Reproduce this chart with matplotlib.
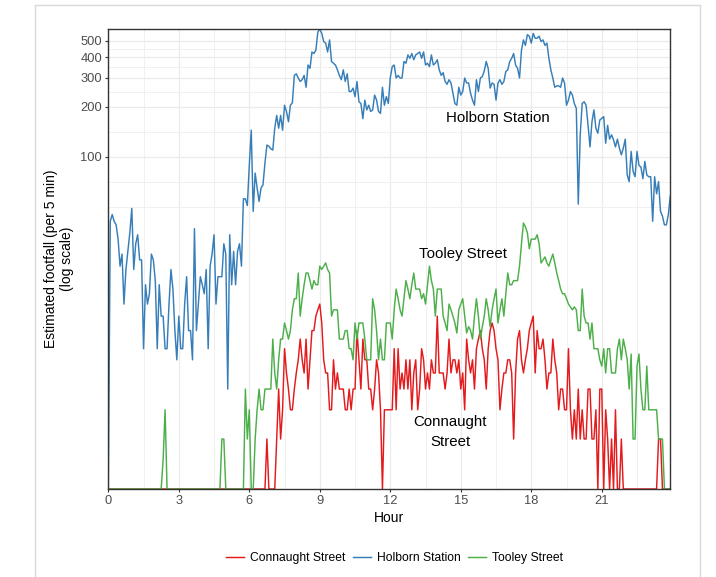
import numpy as np
import matplotlib
matplotlib.use("Agg")
import matplotlib.pyplot as plt
from matplotlib.ticker import FixedLocator, FixedFormatter, NullFormatter
from matplotlib.patches import Rectangle

plt.rcParams['font.family'] = ['Liberation Sans', 'DejaVu Sans']

# ---- data: estimated footfall per 5-minute interval (bottom of axis = 1) ----
connaught = [
    1, 1, 1, 1, 1, 1, 1, 1, 1, 1, 1, 1,
    1, 1, 1, 1, 1, 1, 1, 1, 1, 1, 1, 1,
    1, 1, 1, 1, 1, 1, 1, 1, 1, 1, 1, 1,
    1, 1, 1, 1, 1, 1, 1, 1, 1, 1, 1, 1,
    1, 1, 1, 1, 1, 1, 1, 1, 1, 1, 1, 1,
    1, 1, 1, 1, 1, 1, 1, 1, 1, 1, 1, 1,
    1, 1, 1, 1, 1, 1, 1, 1, 1, 2, 1, 1,
    1, 1, 2, 4, 2, 3, 7, 5, 4, 3, 3, 4,
    5, 6, 8, 6, 5, 8, 4, 6, 9, 9, 11, 12,
    13, 10, 6, 5, 5, 3, 3, 6, 4, 5, 4, 4,
    4, 3, 3, 4, 3, 4, 4, 9, 6, 4, 8, 6,
    6, 4, 4, 3, 4, 6, 5, 3, 1, 3, 3, 3,
    3, 3, 7, 3, 7, 4, 5, 4, 6, 4, 6, 3,
    5, 6, 3, 4, 7, 6, 4, 5, 4, 6, 5, 5,
    11, 5, 5, 5, 4, 5, 8, 5, 6, 6, 5, 6,
    4, 5, 3, 8, 6, 5, 6, 4, 7, 8, 9, 7,
    6, 4, 7, 9, 10, 9, 7, 6, 3, 4, 5, 5,
    6, 6, 5, 2, 5, 8, 9, 6, 5, 6, 7, 9,
    10, 11, 5, 9, 7, 7, 8, 6, 4, 5, 5, 8,
    6, 5, 3, 4, 4, 3, 3, 7, 3, 2, 3, 2,
    4, 2, 3, 2, 2, 4, 4, 2, 2, 3, 1, 4,
    4, 1, 3, 2, 1, 2, 1, 3, 1, 1, 2, 1,
    1, 1, 1, 1, 1, 1, 1, 1, 1, 1, 1, 1,
    1, 1, 1, 1, 1, 2, 2, 1, 1, 1, 1, 1,
]

holborn = [
    1, 41, 45, 41, 39, 32, 22, 26, 13, 21, 27, 35,
    49, 21, 30, 34, 24, 24, 7, 17, 13, 15, 26, 24,
    18, 7, 17, 11, 11, 7, 7, 13, 21, 16, 9, 6,
    11, 7, 7, 13, 19, 9, 9, 6, 37, 9, 13, 19,
    17, 15, 21, 7, 22, 26, 34, 13, 19, 19, 19, 30,
    26, 4, 34, 17, 27, 17, 27, 30, 22, 56, 56, 51,
    89, 145, 47, 80, 65, 54, 65, 68, 92, 118, 116, 112,
    110, 149, 178, 149, 178, 145, 205, 188, 163, 205, 212, 310,
    317, 299, 285, 292, 310, 263, 358, 342, 429, 420, 440, 565,
    590, 555, 496, 485, 429, 507, 376, 367, 358, 335, 310, 292,
    335, 285, 317, 248, 248, 260, 231, 285, 215, 210, 170, 220,
    192, 205, 188, 192, 236, 220, 188, 183, 263, 205, 231, 210,
    300, 350, 358, 299, 310, 299, 299, 376, 367, 412, 393, 420,
    385, 412, 420, 429, 393, 429, 358, 367, 350, 412, 358, 367,
    385, 335, 310, 322, 285, 274, 292, 279, 242, 210, 205, 263,
    236, 248, 299, 279, 279, 242, 220, 205, 292, 248, 299, 305,
    330, 376, 342, 260, 279, 274, 220, 279, 292, 274, 285, 327,
    335, 376, 393, 420, 358, 342, 299, 440, 507, 470, 545, 534,
    485, 555, 519, 519, 534, 496, 507, 470, 485, 393, 335, 299,
    263, 268, 268, 263, 299, 279, 205, 220, 248, 236, 210, 196,
    52, 136, 210, 215, 205, 155, 115, 163, 192, 149, 139, 167,
    171, 175, 121, 155, 128, 136, 127, 115, 128, 113, 103, 113,
    128, 78, 71, 108, 82, 76, 108, 89, 87, 74, 94, 78,
    76, 76, 41, 76, 60, 71, 47, 44, 39, 39, 45, 58,
]

tooley = [
    1, 1, 1, 1, 1, 1, 1, 1, 1, 1, 1, 1,
    1, 1, 1, 1, 1, 1, 1, 1, 1, 1, 1, 1,
    1, 1, 1, 1, 1.5, 3, 1, 1, 1, 1, 1, 1,
    1, 1, 1, 1, 1, 1, 1, 1, 1, 1, 1, 1,
    1, 1, 1, 1, 1, 1, 1, 1, 1, 1, 2, 2,
    1, 1, 1, 1, 1, 1, 1, 1, 1, 1, 4, 2,
    3, 1, 1, 2, 3, 4, 3, 3, 4, 4, 4, 4,
    8, 5, 4, 6, 8, 8, 10, 9, 8, 9, 12, 14,
    14, 20, 11, 14, 17, 20, 20, 18, 16, 18, 17, 17,
    22, 21, 22, 23, 21, 20, 11, 12, 12, 12, 8, 8,
    8, 9, 9, 7, 7, 6, 10, 8, 10, 10, 10, 8,
    6, 6, 6, 14, 12, 9, 6, 8, 6, 6, 10, 10,
    10, 8, 12, 16, 14, 12, 11, 14, 18, 16, 14, 17,
    20, 16, 16, 16, 14, 15, 13, 17, 22, 18, 16, 11,
    16, 16, 16, 11, 10, 9, 13, 12, 11, 10, 8.7, 12,
    13, 14, 11, 8.7, 9.5, 9, 8, 11, 14, 11, 8, 9.5,
    11, 14, 12, 9.5, 12, 14, 16, 10, 12, 14, 11, 15,
    20, 17, 17, 18, 18, 18, 22, 30, 40, 38, 35, 28,
    32, 32, 32, 34, 30, 23, 24, 25, 23, 22, 24, 26,
    23, 20, 18, 16, 15, 15, 14, 13, 12.5, 12, 12.5, 12,
    9, 9, 16, 11, 10, 10, 8, 10, 7, 7, 7, 6,
    5.5, 7, 5, 7, 7, 5, 5, 5, 7, 8, 6, 8,
    7, 6, 4, 6.5, 2, 2, 5.5, 6.5, 4, 3, 3, 5.5,
    3, 3, 3, 3, 3, 2, 2, 2, 1, 1, 1, 1,
]

series_names = ["Connaught Street", "Holborn Station", "Tooley Street"]
series_colors = ["#E41A1C", "#377EB8", "#4DAF4A"]
x_ticks = [0, 3, 6, 9, 12, 15, 18, 21]
x_minor = [1.5, 4.5, 7.5, 10.5, 13.5, 16.5, 19.5, 22.5]
y_ticks = [100, 200, 300, 400, 500]
y_minor = [50, 70.7, 141.4, 244.9, 346.4, 447.2]
labels_text = [("Holborn Station", 16.56, 172), ("Tooley Street", 15.09, 26.0),
               ("Connaught\nStreet", 14.56, 2.2)]

W, H = 716, 577
fig = plt.figure(figsize=(W / 100, H / 100), dpi=100)
fig.patches.append(Rectangle((35 / W, -0.01), (700 - 35) / W, 1 - 5 / H + 0.01,
                             transform=fig.transFigure, fill=False,
                             edgecolor="#d9d9d9", lw=1.0))

left, right, top, bottom = 108.3, 670.3, 29, 489
ax = fig.add_axes([left / W, 1 - bottom / H, (right - left) / W, (bottom - top) / H])

hours = np.arange(len(holborn)) / 12.0
for name, vals, col in zip(series_names, [connaught, holborn, tooley], series_colors):
    ax.plot(hours, vals, color=col, lw=1.05, label=name, solid_joinstyle="round")

ax.set_yscale("log")
ax.set_ylim(1, max(holborn))
ax.set_xlim(0, hours[-1])

ax.yaxis.set_major_locator(FixedLocator(y_ticks))
ax.yaxis.set_major_formatter(FixedFormatter([str(v) for v in y_ticks]))
ax.yaxis.set_minor_locator(FixedLocator(y_minor))
ax.yaxis.set_minor_formatter(NullFormatter())
ax.set_xticks(x_ticks)
ax.set_xticklabels([str(v) for v in x_ticks])
ax.set_xticks(x_minor, minor=True)

ax.grid(which="major", color="#ebebeb", lw=0.9)
ax.grid(which="minor", color="#f0f0f0", lw=0.7)
ax.set_axisbelow(True)
ax.tick_params(which="major", length=2.5, width=0.8, color="#333333",
               labelsize=9.3, labelcolor="#4d4d4d", pad=2)
ax.tick_params(which="minor", length=0)
for s in ax.spines.values():
    s.set_color("#333333")
    s.set_linewidth(1.0)

for txt, hx, vy in labels_text:
    ax.text(hx, vy, txt, ha="center", va="center", fontsize=10.8,
            color="black", linespacing=1.55)

ax.set_xlabel("Hour", fontsize=10)
ax.xaxis.set_label_coords(0.5, -(511 - 489) / (bottom - top))
ax.set_ylabel("Estimated footfall (per 5 min)\n(log scale)", fontsize=10,
              linespacing=1.2)
ax.yaxis.set_label_coords(-(left - 74) / (right - left), 0.5)

handles, labs = ax.get_legend_handles_labels()
fig.legend(handles, labs, loc="center", bbox_to_anchor=(394.5 / W, 1 - 558 / H),
           ncol=3, frameon=False, fontsize=8.7, handlelength=1.5,
           handletextpad=0.5, columnspacing=0.6)

fig.savefig("out.png", dpi=100)
